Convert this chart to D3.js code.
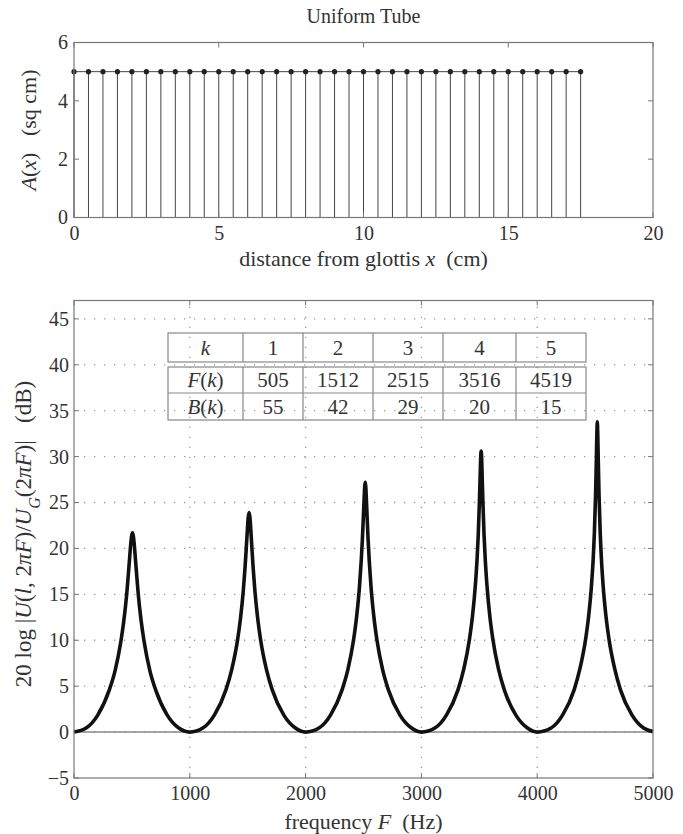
<!DOCTYPE html>
<html>
<head>
<meta charset="utf-8">
<script src="https://cdn.jsdelivr.net/npm/d3@7"></script>
<style>
  body { margin: 0; background: #fff; }
  svg, svg text { font-family: "Liberation Serif", "Times New Roman", Times, "DejaVu Serif", serif; fill: #333; }
</style>
</head>
<body>
<svg id="chart"></svg>
<script>
// --- top panel: area function of the uniform tube
const tubeX = d3.range(36).map(i => i * 0.5);   // section positions 0 .. 17.5 cm
const tubeArea = tubeX.map(() => 5);            // every section 5 sq cm
const topXTicks = [0, 5, 10, 15, 20];
const topYTicks = [0, 2, 4, 6];

// --- bottom panel: frequency response
const freqHz = [
  0, 105, 205, 305, 355, 405, 430, 455, 470, 480, 490, 497, 505, 513, 520, 530, 540, 555, 580, 605, 655, 705, 805, 905,
  1000, 1112, 1212, 1312, 1362, 1412, 1437, 1462, 1477, 1487, 1497, 1504, 1512, 1520, 1527, 1537, 1547, 1562, 1587, 1612, 1662, 1712, 1812, 1912,
  2000, 2115, 2215, 2315, 2365, 2415, 2440, 2465, 2480, 2490, 2500, 2507, 2511, 2515, 2519, 2523, 2530, 2540, 2550, 2565, 2590, 2615, 2665, 2715, 2815, 2915,
  3000, 3116, 3216, 3316, 3366, 3416, 3441, 3466, 3481, 3491, 3501, 3508, 3512, 3516, 3520, 3524, 3531, 3541, 3551, 3566, 3591, 3616, 3666, 3716, 3816, 3916,
  4000, 4119, 4219, 4319, 4369, 4419, 4444, 4469, 4484, 4494, 4504, 4511, 4515, 4519, 4523, 4527, 4534, 4544, 4554, 4569, 4594, 4619, 4669, 4719, 4819, 4919,
  5000
];
const levelDb = [
  0, 0.44, 1.85, 4.6, 6.7, 9.9, 12.1, 15.0, 17.3, 18.9, 20.5, 21.3, 21.7, 21.3, 20.5, 18.9, 17.3, 15.0, 12.1, 9.9, 6.7, 4.6, 1.85, 0.44,
  0, 0.44, 1.85, 4.6, 6.8, 10.0, 12.3, 15.4, 17.9, 19.9, 22.0, 23.3, 23.9, 23.3, 22.0, 19.9, 17.9, 15.4, 12.3, 10.0, 6.8, 4.6, 1.85, 0.44,
  0, 0.44, 1.85, 4.6, 6.8, 10.1, 12.5, 15.8, 18.6, 20.9, 23.8, 25.9, 26.8, 27.2, 26.8, 25.9, 23.8, 20.9, 18.6, 15.8, 12.5, 10.1, 6.8, 4.6, 1.85, 0.44,
  0, 0.44, 1.85, 4.6, 6.85, 10.2, 12.6, 16.0, 18.9, 21.5, 25.1, 28.2, 29.9, 30.6, 29.9, 28.2, 25.1, 21.5, 18.9, 16.0, 12.6, 10.2, 6.85, 4.6, 1.85, 0.44,
  0, 0.44, 1.85, 4.6, 6.9, 10.2, 12.6, 16.0, 19.0, 21.8, 25.8, 29.8, 32.4, 33.8, 32.4, 29.8, 25.8, 21.8, 19.0, 16.0, 12.6, 10.2, 6.9, 4.6, 1.85, 0.44,
  0.05
];
const botXTicks = [0, 1000, 2000, 3000, 4000, 5000];
const botYTicks = [-5, 0, 5, 10, 15, 20, 25, 30, 35, 40, 45];

// formant table
const formantK = [1, 2, 3, 4, 5];
const formantF = [505, 1512, 2515, 3516, 4519];
const formantB = [55, 42, 29, 20, 15];

const W = 683, H = 834;
const serif = '"Liberation Serif", "Times New Roman", Times, "DejaVu Serif", serif';
const svg = d3.select("#chart").attr("width", W).attr("height", H)
  .attr("font-family", serif);

const boxColor = "#777";
const left = 74, right = 653;
const tickFont = "20px";
const labelFont = "22px";

// ================= top panel =================
const xTop = d3.scaleLinear().domain([0, 20]).range([left, right]);
const yTop = d3.scaleLinear().domain([0, 6]).range([217.5, 42.5]);

const topPanel = svg.append("g");

topPanel.append("text")
  .attr("x", (left + right) / 2).attr("y", 23)
  .attr("text-anchor", "middle").style("font-size", "20px")
  .text("Uniform Tube");

// inside ticks on all four sides
function insideTicks(g, xs, ys, xScale, yScale, len) {
  const [x0, x1] = xScale.range();
  const [y0, y1] = yScale.range();
  xs.forEach(v => {
    g.append("line").attr("x1", xScale(v)).attr("x2", xScale(v)).attr("y1", y0).attr("y2", y0 - len);
    g.append("line").attr("x1", xScale(v)).attr("x2", xScale(v)).attr("y1", y1).attr("y2", y1 + len);
  });
  ys.forEach(v => {
    g.append("line").attr("y1", yScale(v)).attr("y2", yScale(v)).attr("x1", x0).attr("x2", x0 + len);
    g.append("line").attr("y1", yScale(v)).attr("y2", yScale(v)).attr("x1", x1).attr("x2", x1 - len);
  });
  g.selectAll("line").attr("stroke", boxColor).attr("stroke-width", 1);
}

function styleAxis(a) {
  a.select(".domain").remove();
  a.attr("font-family", serif).attr("font-size", null);
  a.selectAll("text").style("font-size", tickFont).style("font-family", serif).attr("fill", "#333");
}

// stems
topPanel.append("g").selectAll("line")
  .data(tubeX)
  .join("line")
  .attr("x1", d => xTop(d)).attr("x2", d => xTop(d))
  .attr("y1", yTop(0)).attr("y2", (d, i) => yTop(tubeArea[i]))
  .attr("stroke", "#444").attr("stroke-width", 1);

topPanel.append("path")
  .datum(tubeX)
  .attr("fill", "none").attr("stroke", "#444").attr("stroke-width", 1)
  .attr("d", d3.line().x(d => xTop(d)).y((d, i) => yTop(tubeArea[i])));

topPanel.append("g").selectAll("circle")
  .data(tubeX)
  .join("circle")
  .attr("cx", d => xTop(d)).attr("cy", (d, i) => yTop(tubeArea[i]))
  .attr("r", 2.6).attr("fill", "#222");

insideTicks(topPanel.append("g"), topXTicks, topYTicks, xTop, yTop, 5);

topPanel.append("rect")
  .attr("x", left).attr("y", yTop(6))
  .attr("width", right - left).attr("height", yTop(0) - yTop(6))
  .attr("fill", "none").attr("stroke", boxColor).attr("stroke-width", 1.2);

topPanel.append("g")
  .attr("transform", `translate(0,${yTop(0)})`)
  .call(d3.axisBottom(xTop).tickValues(topXTicks).tickSize(0).tickPadding(8).tickFormat(d3.format("d")))
  .call(styleAxis);
topPanel.append("g")
  .attr("transform", `translate(${left},0)`)
  .call(d3.axisLeft(yTop).tickValues(topYTicks).tickSize(0).tickPadding(6).tickFormat(d3.format("d")))
  .call(styleAxis);

topPanel.append("text")
  .attr("x", (left + right) / 2).attr("y", 266)
  .attr("text-anchor", "middle").style("font-size", labelFont)
  .call(t => {
    t.append("tspan").text("distance from glottis ");
    t.append("tspan").style("font-style", "italic").text("x");
    t.append("tspan").attr("xml:space", "preserve").text("  (cm)");
  });

topPanel.append("text")
  .attr("transform", `translate(36,${(yTop(0) + yTop(6)) / 2}) rotate(-90)`)
  .attr("text-anchor", "middle").style("font-size", labelFont)
  .call(t => {
    t.append("tspan").style("font-style", "italic").text("A");
    t.append("tspan").text("(");
    t.append("tspan").style("font-style", "italic").text("x");
    t.append("tspan").text(")");
    t.append("tspan").attr("xml:space", "preserve").text("   (sq cm)");
  });

// ================= bottom panel =================
const xBot = d3.scaleLinear().domain([0, 5000]).range([left, right]);
const yBot = d3.scaleLinear().domain([-5, 47]).range([778, 300.5]);

const bot = svg.append("g");

// dotted grid
const grid = bot.append("g");
grid.append("g").selectAll("line")
  .data(botYTicks.filter(v => v > -5))
  .join("line")
  .attr("x1", left).attr("x2", right)
  .attr("y1", d => yBot(d)).attr("y2", d => yBot(d));
grid.append("g").selectAll("line")
  .data(botXTicks.filter(v => v > 0 && v < 5000))
  .join("line")
  .attr("x1", d => xBot(d)).attr("x2", d => xBot(d))
  .attr("y1", yBot(-5)).attr("y2", yBot(47));
grid.selectAll("line")
  .attr("stroke", "#999").attr("stroke-width", 1.3)
  .attr("stroke-dasharray", "1.3,8.7").attr("stroke-linecap", "butt");

insideTicks(bot.append("g"), botXTicks, botYTicks, xBot, yBot, 5);

// zero line
bot.append("line")
  .attr("x1", left).attr("x2", right)
  .attr("y1", yBot(0)).attr("y2", yBot(0))
  .attr("stroke", "#888").attr("stroke-width", 1.5);

// table
const colEdges = [168, 243, 303, 373, 443, 516, 586];
const rowEdges = [333, 362, 367, 393, 420];
const table = bot.append("g");
const tcol = "#888";
table.append("rect").attr("x", colEdges[0]).attr("y", rowEdges[0])
  .attr("width", colEdges[6] - colEdges[0]).attr("height", rowEdges[1] - rowEdges[0])
  .attr("fill", "none").attr("stroke", tcol).attr("stroke-width", 1.2);
table.append("rect").attr("x", colEdges[0]).attr("y", rowEdges[2])
  .attr("width", colEdges[6] - colEdges[0]).attr("height", rowEdges[4] - rowEdges[2])
  .attr("fill", "none").attr("stroke", tcol).attr("stroke-width", 1.2);
table.append("line").attr("x1", colEdges[0]).attr("x2", colEdges[6])
  .attr("y1", rowEdges[3]).attr("y2", rowEdges[3])
  .attr("stroke", tcol).attr("stroke-width", 1.2);
colEdges.slice(1, 6).forEach(cx => {
  [[rowEdges[0], rowEdges[1]], [rowEdges[2], rowEdges[4]]].forEach(([a, b]) => {
    table.append("line").attr("x1", cx).attr("x2", cx).attr("y1", a).attr("y2", b)
      .attr("stroke", tcol).attr("stroke-width", 1.2);
  });
});

function cell(col, row, fill) {
  const cx = (colEdges[col] + colEdges[col + 1]) / 2;
  const cy = row === 0 ? (rowEdges[0] + rowEdges[1]) / 2
           : row === 1 ? (rowEdges[2] + rowEdges[3]) / 2
           : (rowEdges[3] + rowEdges[4]) / 2;
  const t = table.append("text").attr("x", cx).attr("y", cy + 7)
    .attr("text-anchor", "middle").style("font-size", "21px");
  fill(t);
}
function fnLabel(letter) {
  return t => {
    t.append("tspan").style("font-style", "italic").text(letter);
    t.append("tspan").text("(");
    t.append("tspan").style("font-style", "italic").text("k");
    t.append("tspan").text(")");
  };
}
cell(0, 0, t => t.style("font-style", "italic").text("k"));
cell(0, 1, fnLabel("F"));
cell(0, 2, fnLabel("B"));
formantK.forEach((k, i) => {
  cell(i + 1, 0, t => t.text(k));
  cell(i + 1, 1, t => t.text(formantF[i]));
  cell(i + 1, 2, t => t.text(formantB[i]));
});

// response curve
bot.append("path")
  .datum(freqHz)
  .attr("fill", "none").attr("stroke", "#111").attr("stroke-width", 3.6)
  .attr("stroke-linejoin", "round")
  .attr("d", d3.line().curve(d3.curveMonotoneX)
    .x(d => xBot(d)).y((d, i) => yBot(levelDb[i])));

bot.append("rect")
  .attr("x", left).attr("y", yBot(47))
  .attr("width", right - left).attr("height", yBot(-5) - yBot(47))
  .attr("fill", "none").attr("stroke", boxColor).attr("stroke-width", 1.2);

bot.append("g")
  .attr("transform", `translate(0,${yBot(-5)})`)
  .call(d3.axisBottom(xBot).tickValues(botXTicks).tickSize(0).tickPadding(8).tickFormat(d3.format("d")))
  .call(styleAxis);
bot.append("g")
  .attr("transform", `translate(${left},0)`)
  .call(d3.axisLeft(yBot).tickValues(botYTicks).tickSize(0).tickPadding(5)
    .tickFormat(d => d < 0 ? "\u2212" + Math.abs(d) : d))
  .call(styleAxis);

bot.append("text")
  .attr("x", (left + right) / 2).attr("y", 829)
  .attr("text-anchor", "middle").style("font-size", labelFont)
  .call(t => {
    t.append("tspan").text("frequency ");
    t.append("tspan").style("font-style", "italic").text("F");
    t.append("tspan").attr("xml:space", "preserve").text("  (Hz)");
  });

bot.append("text")
  .attr("transform", `translate(31,534) rotate(-90)`)
  .attr("text-anchor", "middle").style("font-size", "23px")
  .attr("xml:space", "preserve")
  .call(t => {
    t.append("tspan").text("20 log |");
    t.append("tspan").style("font-style", "italic").text("U");
    t.append("tspan").text("(");
    t.append("tspan").style("font-style", "italic").text("l");
    t.append("tspan").text(", 2");
    t.append("tspan").style("font-style", "italic").text("\u03c0F");
    t.append("tspan").text(")/");
    t.append("tspan").style("font-style", "italic").text("U");
    t.append("tspan").style("font-style", "italic").style("font-size", "16px")
      .attr("baseline-shift", "sub").text("G");
    t.append("tspan").text("(2");
    t.append("tspan").style("font-style", "italic").text("\u03c0F");
    t.append("tspan").text(")|");
    t.append("tspan").text("   (dB)");
  });
</script>
</body>
</html>
